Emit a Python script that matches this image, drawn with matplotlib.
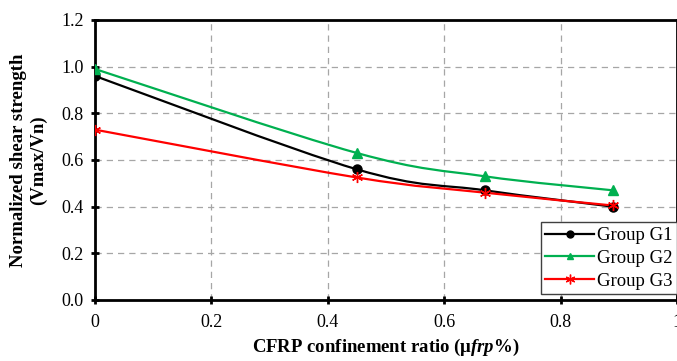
import matplotlib
matplotlib.use("Agg")
import matplotlib.pyplot as plt
from matplotlib.path import Path
from matplotlib.patches import PathPatch
from matplotlib.lines import Line2D
import numpy as np

plt.rcParams['font.family'] = ['Liberation Serif', 'DejaVu Serif']
plt.rcParams['mathtext.fontset'] = 'custom'
plt.rcParams['mathtext.rm'] = 'Liberation Serif:bold'
plt.rcParams['mathtext.bf'] = 'Liberation Serif:bold'
plt.rcParams['mathtext.it'] = 'Liberation Serif:italic:bold'
plt.rcParams['mathtext.bfit'] = 'Liberation Serif:italic:bold'

x_vals = [0.0, 0.45, 0.67, 0.89]
g1 = [0.96, 0.56, 0.47, 0.40]
g2 = [0.99, 0.63, 0.53, 0.47]
g3 = [0.73, 0.525, 0.46, 0.405]
series_names = ["Group G1", "Group G2", "Group G3"]
colors = ["#000000", "#00B050", "#FF0000"]
markers = ["o", "^", (6, 2, 0)]
xticks = [0, 0.2, 0.4, 0.6, 0.8, 1]
xtick_labels = ["0", "0.2", "0.4", "0.6", "0.8", "1"]
yticks = [0.0, 0.2, 0.4, 0.6, 0.8, 1.0, 1.2]
ytick_labels = ["0.0", "0.2", "0.4", "0.6", "0.8", "1.0", "1.2"]

fig = plt.figure(figsize=(6.77, 3.61), dpi=100)
ax = fig.add_axes([95/677, 61/361, 582/677, 280/361])


def smooth_path(xs, ys, tension=1/6):
    xs = np.asarray(xs, float); ys = np.asarray(ys, float)
    pts = np.column_stack([xs, ys])
    n = len(pts)
    verts = [pts[0]]
    codes = [Path.MOVETO]
    for i in range(n - 1):
        p0 = pts[i - 1] if i > 0 else pts[i]
        p1 = pts[i]
        p2 = pts[i + 1]
        p3 = pts[i + 2] if i + 2 < n else pts[i + 1]
        c1 = p1 + (p2 - p0) * tension
        c2 = p2 - (p3 - p1) * tension
        verts += [c1, c2, p2]
        codes += [Path.CURVE4] * 3
    return Path(verts, codes)


handles = []
for ys, name, c, m in zip([g1, g2, g3], series_names, colors, markers):
    patch = PathPatch(smooth_path(x_vals, ys), facecolor='none', edgecolor=c, lw=1.6, zorder=3)
    ax.add_patch(patch)
    if isinstance(m, tuple):
        ax.plot(x_vals, ys, linestyle='none', marker=m, color=c, markersize=8, mew=1.0, zorder=4)
    else:
        ax.plot(x_vals, ys, linestyle='none', marker=m, color=c, markersize=6.5, zorder=4)
    handles.append(Line2D([], [], color=c, lw=1.6, marker=m,
                          markersize=5 if not isinstance(m, tuple) else 7, mew=1.0, label=name))

ax.set_xlim(0, 1)
ax.set_ylim(0, 1.2)
ax.set_xticks(xticks)
ax.set_xticklabels(xtick_labels)
ax.set_yticks(yticks)
ax.set_yticklabels(ytick_labels)
ax.grid(True, color='#A6A6A6', linestyle=(0, (5, 4)), linewidth=0.9)
ax.set_axisbelow(True)
for s in ['left', 'bottom', 'top', 'right']:
    ax.spines[s].set_linewidth(2.0)
    ax.spines[s].set_color('black')
ax.tick_params(axis='both', direction='inout', length=6, width=2.0, labelsize=13, colors='black', pad=5)
ax.tick_params(axis='x', pad=7)

ax.set_ylabel("Normalized shear strength\n(Vmax/Vn)", fontsize=13.5, fontweight='bold', labelpad=10, linespacing=1.25)
ax.set_xlabel(r"CFRP confinement ratio (μ$\mathit{frp}$%)", fontsize=13.5, fontweight='bold', labelpad=4)

leg = ax.legend(handles=handles, loc='lower right', fontsize=13.5, frameon=True, fancybox=False,
                edgecolor='#404040', framealpha=1, handlelength=2.6, borderpad=0.25, labelspacing=0.3,
                handletextpad=0.15, borderaxespad=0.0, bbox_to_anchor=(1.0, 0.02))
leg.get_frame().set_linewidth(1.0)

fig.savefig("out.png", dpi=100)
